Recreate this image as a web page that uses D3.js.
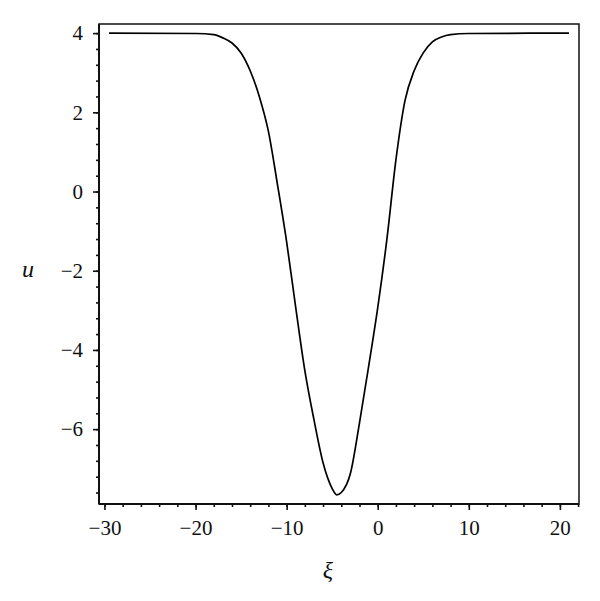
<!DOCTYPE html>
<html>
<head>
<meta charset="utf-8">
<script src="https://cdn.jsdelivr.net/npm/d3@7"></script>
<style>
  body { margin: 0; background: #fff; }
  text { font-family: "Liberation Serif", "DejaVu Serif", serif; fill: #111; }
</style>
</head>
<body>
<div id="chart-area"></div>
<script>
// values
const xi = [-29.5, -20, -18, -17, -16, -15, -14, -13, -12, -11, -10, -9, -8, -7, -6, -5, -4.5, -4, -3, -2, -1, 0, 1, 2, 3, 4, 5, 6, 7, 8, 10, 21]
const u = [4.0, 3.99, 3.96, 3.88, 3.75, 3.5, 3.05, 2.4, 1.52, 0.17, -1.27, -2.93, -4.52, -5.76, -6.85, -7.5, -7.66, -7.6, -7.12, -5.84, -4.42, -2.94, -1.22, 0.8, 2.3, 3.05, 3.5, 3.78, 3.9, 3.96, 3.99, 4.0]

const xTicks = [-30, -20, -10, 0, 10, 20]
const yTicks = [-6, -4, -2, 0, 2, 4]

const data = xi.map((d, i) => ({x: d, y: u[i]}))

const width = 600, height = 601
const margin = {left: 99, right: 21, top: 24, bottom: 97}

const svg = d3.select("#chart-area").append("svg")
  .attr("width", width)
  .attr("height", height)

const x = d3.scaleLinear().domain([-30.6, 22.1]).range([margin.left, width - margin.right])
const y = d3.scaleLinear().domain([-7.89, 4.23]).range([height - margin.bottom, margin.top])

// minor ticks
const xMinor = d3.range(-30, 22.1, 2)
const yMinor = d3.range(-7.6, 4.2, 0.4)

let fmt = d => d < 0 ? "\u2212" + Math.abs(d) : d

let xAxis = svg.append("g")
  .attr("transform", `translate(0,${y.range()[0]})`)
xAxis.call(d3.axisBottom(x).tickValues(xMinor).tickSize(3).tickFormat(""))
xAxis.select(".domain").remove()
let xAxis2 = svg.append("g")
  .attr("transform", `translate(0,${y.range()[0]})`)
  .call(d3.axisBottom(x).tickValues(xTicks).tickSize(6).tickPadding(10).tickFormat(fmt))
xAxis2.select(".domain").remove()

let yAxis = svg.append("g")
  .attr("transform", `translate(${x.range()[0]},0)`)
yAxis.call(d3.axisLeft(y).tickValues(yMinor).tickSize(3).tickFormat(""))
yAxis.select(".domain").remove()
let yAxis2 = svg.append("g")
  .attr("transform", `translate(${x.range()[0]},0)`)
  .call(d3.axisLeft(y).tickValues(yTicks).tickSize(6).tickPadding(10).tickFormat(fmt))
yAxis2.select(".domain").remove()

svg.selectAll(".tick line").attr("stroke", "#111").attr("stroke-width", 1.6)
svg.selectAll(".tick text")
  .attr("fill", "#111")
  .attr("font-family", "Liberation Serif, serif")
  .attr("font-size", 21)

// frame
svg.append("rect")
  .attr("x", x.range()[0])
  .attr("y", y.range()[1])
  .attr("width", x.range()[1] - x.range()[0])
  .attr("height", y.range()[0] - y.range()[1])
  .attr("fill", "none")
  .attr("stroke", "#111")
  .attr("stroke-width", 1.5)

// heavier left and bottom axis lines
svg.append("line")
  .attr("x1", x.range()[0]).attr("x2", x.range()[0])
  .attr("y1", y.range()[1]).attr("y2", y.range()[0])
  .attr("stroke", "#111").attr("stroke-width", 2)
svg.append("line")
  .attr("x1", x.range()[0]).attr("x2", x.range()[1])
  .attr("y1", y.range()[0]).attr("y2", y.range()[0])
  .attr("stroke", "#111").attr("stroke-width", 2)

let line = d3.line()
  .x(d => x(d.x))
  .y(d => y(d.y))
  .curve(d3.curveMonotoneX)

svg.append("path")
  .datum(data)
  .attr("fill", "none")
  .attr("stroke", "#000")
  .attr("stroke-width", 1.7)
  .attr("d", line)

// axis labels
svg.append("text")
  .attr("x", 28)
  .attr("y", 277)
  .attr("text-anchor", "middle")
  .style("font-size", "24px")
  .style("font-style", "italic")
  .text("u")

svg.append("text")
  .attr("x", 328)
  .attr("y", 578)
  .attr("text-anchor", "middle")
  .style("font-size", "24px")
  .style("font-style", "italic")
  .text("ξ")
</script>
</body>
</html>
